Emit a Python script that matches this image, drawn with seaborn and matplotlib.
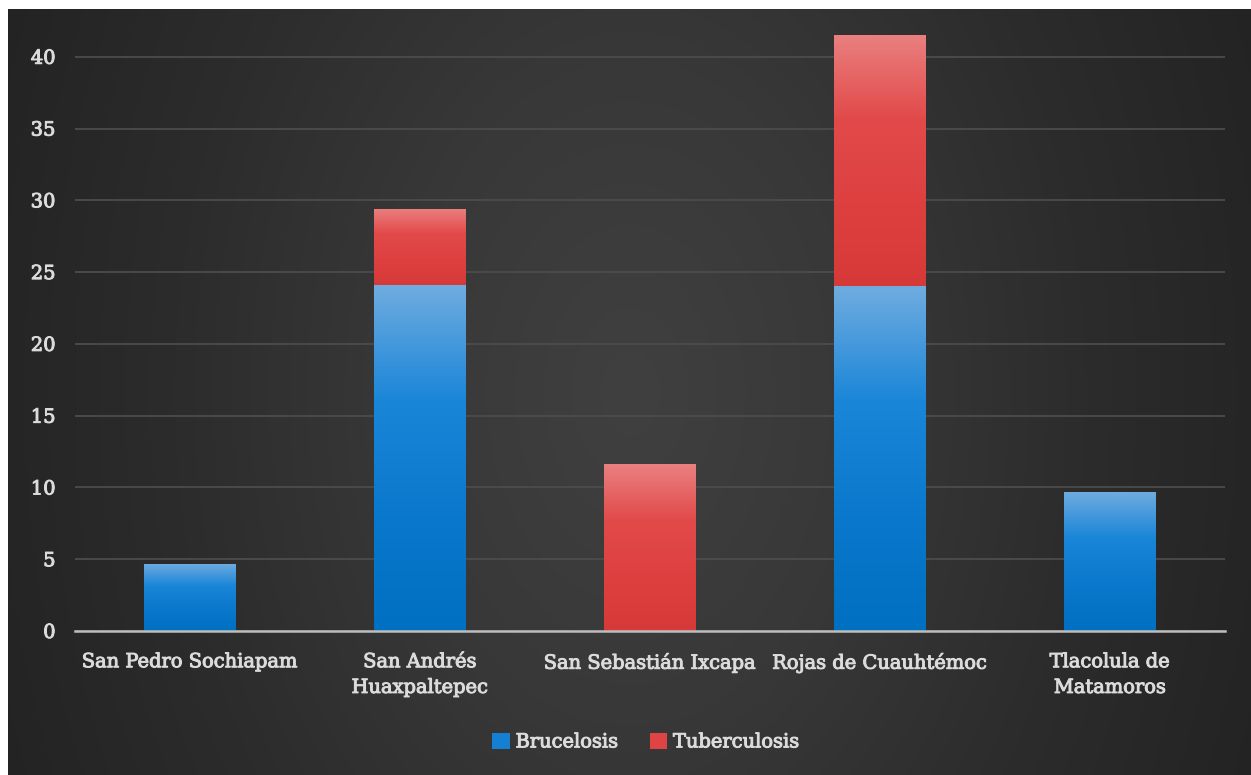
import numpy as np
import pandas as pd
import matplotlib
matplotlib.use("Agg")
import matplotlib.pyplot as plt
from matplotlib.colors import LinearSegmentedColormap
from matplotlib.patches import Patch
import matplotlib.patheffects as pe
import seaborn as sns

# ---- data ----
categories = ["San Pedro Sochiapam", "San Andrés\nHuaxpaltepec", "San Sebastián Ixcapa",
              "Rojas de Cuauhtémoc", "Tlacolula de\nMatamoros"]
brucelosis = [4.7, 24.1, 0.0, 24.0, 9.7]
tuberculosis = [0.0, 5.3, 11.6, 17.5, 0.0]
series_names = ["Brucelosis", "Tuberculosis"]
yticks = [0, 5, 10, 15, 20, 25, 30, 35, 40]

totals = [b + t for b, t in zip(brucelosis, tuberculosis)]
df = pd.DataFrame({"Municipio": categories, "Brucelosis": brucelosis,
                   "Tuberculosis": tuberculosis, "Total": totals})

sns.set_theme(style="dark")
plt.rcParams["font.family"] = ["DejaVu Serif"]
TEXT = "#dcdcdc"
BLUE = "#1580d2"
RED = "#e04343"
FS = 14
effects = [pe.withStroke(linewidth=0.7, foreground=TEXT)]

fig = plt.figure(figsize=(12.51, 7.75), dpi=100)
fig.patch.set_facecolor("white")

# background with soft radial gradient
bg = fig.add_axes([8 / 1251, 0, 1 - 8 / 1251, 1 - 9 / 775], zorder=0)
bg.set_axis_off()
h, w = 400, 640
yy, xx = np.mgrid[0:h, 0:w]
cx, cy = 0.50 * w, 0.50 * h
r = np.sqrt(((xx - cx) / (0.55 * w)) ** 2 + ((yy - cy) / (1.3 * h)) ** 2)
r = np.clip(r, 0, 1)
cmap_bg = LinearSegmentedColormap.from_list("bg", ["#404040", "#383838", "#2c2c2c", "#232323"])
bg.imshow(r, cmap=cmap_bg, vmin=0, vmax=1, aspect="auto", extent=[0, 1, 0, 1])
bg.set_xlim(0, 1)
bg.set_ylim(0, 1)

ax = fig.add_axes([75 / 1251, 144 / 775, (1225 - 75) / 1251, (631 - 18) / 775], zorder=1)
ax.patch.set_alpha(0)

sns.barplot(data=df, x="Municipio", y="Total", color=RED, width=0.4, ax=ax,
            saturation=1, linewidth=0, zorder=2)
n = len(categories)
sns.barplot(data=df, x="Municipio", y="Brucelosis", color=BLUE, width=0.4, ax=ax,
            saturation=1, linewidth=0, zorder=3)

red_patches = ax.patches[:n]
blue_patches = ax.patches[n:2 * n]

blue_cmap = LinearSegmentedColormap.from_list("b", ["#0070c2", "#0a78cc", "#1a86d8", "#70ace0"])
red_cmap = LinearSegmentedColormap.from_list("r", ["#d63a38", "#de4040", "#e24a4a", "#ea8080"])
grad = np.linspace(0, 1, 256).reshape(-1, 1)

for rp, bp in zip(red_patches, blue_patches):
    x0 = bp.get_x()
    x1 = x0 + bp.get_width()
    hb = bp.get_height()
    ht = rp.get_height()
    if hb > 0:
        im = ax.imshow(grad, cmap=blue_cmap, origin="lower", aspect="auto",
                       extent=[x0, x1, 0, hb], zorder=4)
        im.set_clip_path(bp)
    if ht - hb > 0.01:
        im = ax.imshow(grad, cmap=red_cmap, origin="lower", aspect="auto",
                       extent=[x0, x1, hb, ht], zorder=4)
        im.set_clip_path(rp)

ax.set_xlim(-0.5, n - 0.5)
ax.set_ylim(0, 42.7)
ax.set_yticks(yticks)
ax.set_yticklabels([str(t) for t in yticks])
ax.yaxis.grid(True, color="#4c4c4c", linewidth=1.3)
ax.xaxis.grid(False)
ax.set_axisbelow(True)
for s in ["top", "right", "left"]:
    ax.spines[s].set_visible(False)
ax.spines["bottom"].set_color("#bdbdbd")
ax.spines["bottom"].set_linewidth(1.8)
ax.spines["bottom"].set_zorder(6)
ax.set_xlabel("")
ax.set_ylabel("")
ax.tick_params(axis="both", length=0, colors=TEXT, labelsize=FS)
ax.tick_params(axis="y", pad=14)
ax.tick_params(axis="x", pad=16)
for lab in ax.get_xticklabels() + ax.get_yticklabels():
    lab.set_color(TEXT)
    lab.set_path_effects(effects)
for lab in ax.get_xticklabels():
    lab.set_linespacing(1.55)

handles = [Patch(facecolor=BLUE, edgecolor="none"), Patch(facecolor=RED, edgecolor="none")]
leg = fig.legend(handles, series_names, loc="center", bbox_to_anchor=(646 / 1251, 1 - 742 / 775),
                 ncol=2, frameon=False, fontsize=FS, labelcolor=TEXT,
                 handlelength=0.9, handleheight=0.9, handletextpad=0.3, columnspacing=1.6)
for t in leg.get_texts():
    t.set_path_effects(effects)

fig.savefig("out.png", dpi=100, facecolor=fig.get_facecolor())
